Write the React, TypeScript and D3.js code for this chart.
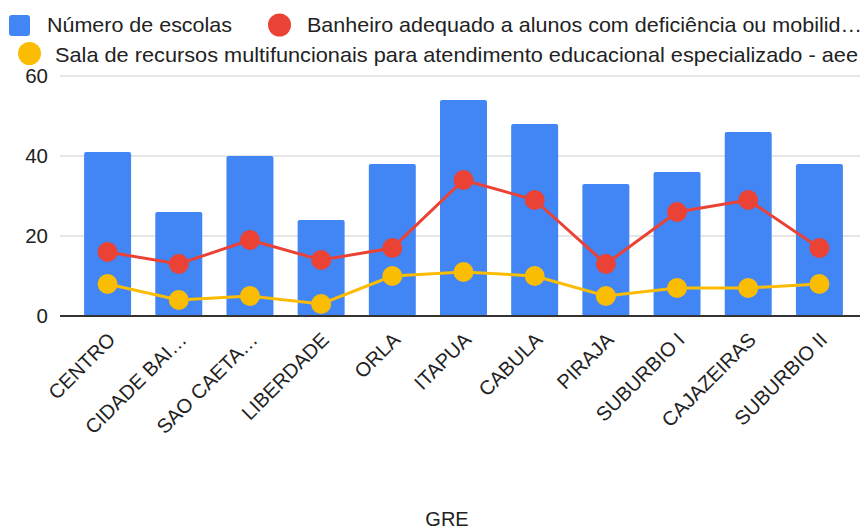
import React from 'react'
import * as d3 from 'd3'

const width = 865
const height = 529

const categories = ['CENTRO', 'CIDADE BAI…', 'SAO CAETA…', 'LIBERDADE', 'ORLA', 'ITAPUA', 'CABULA', 'PIRAJA', 'SUBURBIO I', 'CAJAZEIRAS', 'SUBURBIO II']
const escolas = [41, 26, 40, 24, 38, 54, 48, 33, 36, 46, 38]
const banheiro = [16, 13, 19, 14, 17, 34, 29, 13, 26, 29, 17]
const sala = [8, 4, 5, 3, 10, 11, 10, 5, 7, 7, 8]
const yTicks = [0, 20, 40, 60]

const blue = '#4285F4'
const red = '#EA4335'
const yellow = '#FBBC04'
const ink = '#222'
const font = 'Arial, "Liberation Sans", sans-serif'

export default function App() {
  const x = d3.scaleBand<string>()
    .domain(categories)
    .range([72, 855])
    .paddingInner(0.34)
    .paddingOuter(0.17)

  const y = d3.scaleLinear().domain([0, 60]).range([316, 76])

  const cx = (c: string) => (x(c) as number) + x.bandwidth() / 2

  const lineFn = d3.line<number>()
    .x((_, i) => cx(categories[i]))
    .y(d => y(d))

  return (
    <svg width={width} height={height} style={{ position: 'absolute', left: 0, top: 0, fontFamily: font }}>
      <rect width={width} height={height} fill="#fff" />

      {/* legend */}
      <rect x={9} y={15} width={21} height={21} rx={3} fill={blue} />
      <text x={47} y={32} fontSize={21} fill={ink} textLength={185} lengthAdjust="spacingAndGlyphs">Número de escolas</text>
      <circle cx={279.5} cy={25} r={11.5} fill={red} />
      <text x={307} y={32} fontSize={21} fill={ink} textLength={555} lengthAdjust="spacingAndGlyphs">Banheiro adequado a alunos com deficiência ou mobilid…</text>
      <circle cx={29.5} cy={53.5} r={11.5} fill={yellow} />
      <text x={55} y={62} fontSize={21} fill={ink} textLength={803} lengthAdjust="spacingAndGlyphs">Sala de recursos multifuncionais para atendimento educacional especializado - aee</text>

      {/* grid + y ticks */}
      {yTicks.map(t => (
        <g key={t}>
          {t > 0 && <line x1={60} x2={860} y1={y(t)} y2={y(t)} stroke="#ccc" strokeWidth={1} />}
          <text x={48} y={y(t)} dy="0.36em" textAnchor="end" fontSize={20.5} fill={ink}>{t}</text>
        </g>
      ))}

      {/* bars */}
      {categories.map((c, i) => (
        <rect key={c} x={x(c)} y={y(escolas[i])} width={x.bandwidth()} height={y(0) - y(escolas[i])} rx={2} fill={blue} />
      ))}

      <line x1={60} x2={860} y1={y(0)} y2={y(0)} stroke="#333" strokeWidth={2} />

      {/* lines */}
      <path d={lineFn(banheiro) as string} fill="none" stroke={red} strokeWidth={3} />
      {banheiro.map((v, i) => (
        <circle key={i} cx={cx(categories[i])} cy={y(v)} r={10} fill={red} />
      ))}
      <path d={lineFn(sala) as string} fill="none" stroke={yellow} strokeWidth={3} />
      {sala.map((v, i) => (
        <circle key={i} cx={cx(categories[i])} cy={y(v)} r={10} fill={yellow} />
      ))}

      {/* x labels */}
      {categories.map(c => (
        <text key={c} transform={`translate(${cx(c) + 9},${341}) rotate(-45)`} textAnchor="end" fontSize={20} fill={ink}>{c}</text>
      ))}

      <text x={447} y={526} textAnchor="middle" fontSize={20} fill={ink}>GRE</text>
    </svg>
  )
}
